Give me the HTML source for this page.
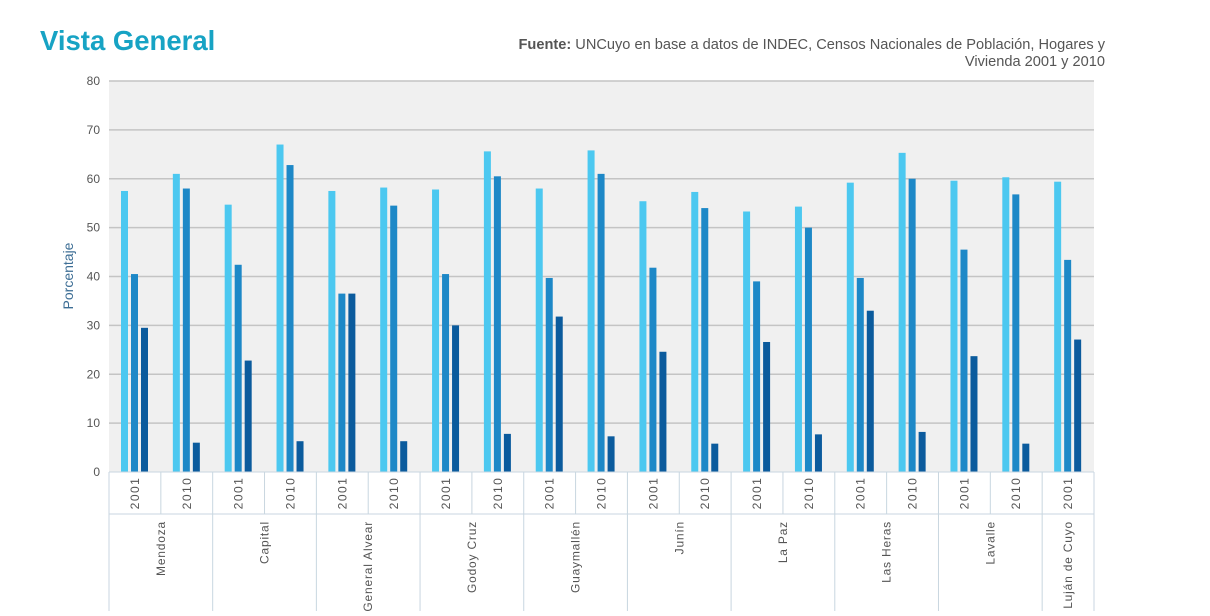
<!DOCTYPE html>
<html><head><meta charset="utf-8"><style>
body{margin:0;background:#fff;width:1210px;height:611px;overflow:hidden;font-family:"Liberation Sans",sans-serif}
</style></head><body>
<svg id="s" width="1210" height="611" xmlns="http://www.w3.org/2000/svg" font-family="Liberation Sans, sans-serif"></svg>
<script>
const d=[[57.5,40.5,29.5],[61,58,6],[54.7,42.4,22.8],[67,62.8,6.3],[57.5,36.5,36.5],[58.2,54.5,6.3],[57.8,40.5,30],[65.6,60.5,7.8],[58,39.7,31.8],[65.8,61,7.3],[55.4,41.8,24.6],[57.3,54,5.8],[53.3,39,26.6],[54.3,50,7.7],[59.2,39.7,33],[65.3,60,8.2],[59.6,45.5,23.7],[60.3,56.8,5.8],[59.4,43.4,27.1]];
const names=["Mendoza","Capital","General Alvear","Godoy Cruz","Guaymallén","Junín","La Paz","Las Heras","Lavalle","Luján de Cuyo"];
const cols=["#4cc8f0","#1d88c7","#0b5b9d"];
const x0=109,x1=1094,y0=472,yt=81,gw=(x1-x0)/19,k=(y0-yt)/80;
let h='';
h+=`<text x="40" y="50" font-size="27.5" font-weight="bold" fill="#17a3c4">Vista General</text>`;
h+=`<text x="1105" y="49" font-size="14.6" fill="#555" text-anchor="end"><tspan font-weight="bold">Fuente:</tspan> UNCuyo en base a datos de INDEC, Censos Nacionales de Población, Hogares y</text>`;
h+=`<text x="1105" y="66" font-size="14.6" fill="#555" text-anchor="end">Vivienda 2001 y 2010</text>`;
h+=`<rect x="${x0}" y="${yt}" width="${x1-x0}" height="${y0-yt}" fill="#f0f0f0"/>`;
for(let v=0;v<=80;v+=10){const y=y0-v*k;
 if(v>0)h+=`<line x1="${x0}" x2="${x1}" y1="${y}" y2="${y}" stroke="#c4c4c4" stroke-width="1.5"/>`;
 h+=`<text x="100" y="${y+4}" font-size="12" fill="#555" text-anchor="end">${v}</text>`;}
h+=`<text transform="translate(73,276) rotate(-90)" font-size="14" fill="#3d6e95" text-anchor="middle">Porcentaje</text>`;
d.forEach((g,i)=>{const gx=x0+i*gw;g.forEach((v,j)=>{const bx=gx+12+j*10;h+=`<rect x="${bx}" y="${y0-v*k}" width="7" height="${v*k}" fill="${cols[j]}"/>`;});
 h+=`<text transform="translate(${gx+gw/2+4},493) rotate(-90)" font-size="12" fill="#555" text-anchor="middle" letter-spacing="1.5">${i%2?2010:2001}</text>`;});
h+=`<line x1="${x0}" x2="${x1}" y1="${y0}" y2="${y0}" stroke="#c8d6e0"/>`;
h+=`<line x1="${x0}" x2="${x1}" y1="514" y2="514" stroke="#c8d6e0"/>`;
for(let i=0;i<=19;i++){const x=x0+i*gw;const full=(i%2==0)||i==19;h+=`<line x1="${x}" x2="${x}" y1="${y0}" y2="${full?611:514}" stroke="#c8d6e0"/>`;}
names.forEach((n,i)=>{const cx=x0+i*2*gw+(i==9?gw/2:gw);h+=`<text transform="translate(${cx+4},521) rotate(-90)" font-size="12" fill="#555" text-anchor="end" letter-spacing="0.8">${n}</text>`;});
document.getElementById('s').innerHTML=h;
</script>
</body></html>
